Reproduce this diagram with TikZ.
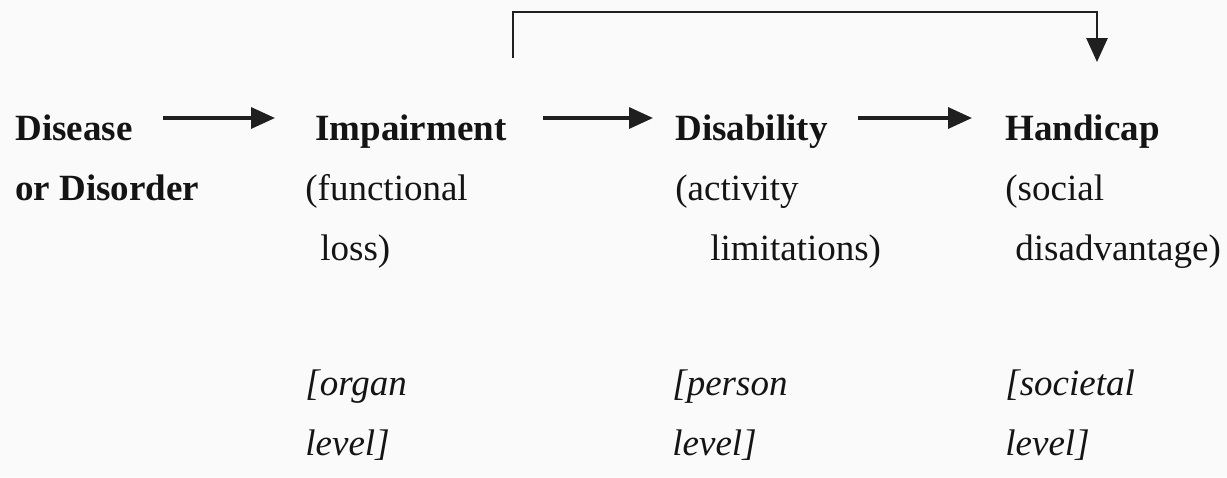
\documentclass[tikz,border=0pt]{standalone}
\usepackage{fontspec}
\setmainfont{Liberation Serif}
\usetikzlibrary{arrows.meta,calc}
\begin{document}
\begin{tikzpicture}[x=0.5pt,y=-0.5pt,
  lbl/.style={inner sep=0pt, anchor=base west, text=black!92, font=\fontsize{18.5}{22}\selectfont},
  hd/.style={lbl, font=\fontsize{18.5}{22}\selectfont\bfseries},
  itl/.style={lbl, font=\fontsize{18.5}{22}\selectfont\itshape},
  arr/.style={line width=1.7pt, draw=black!88, -{Triangle[length=12pt,width=10.5pt]}},
  toparr/.style={arr, line width=1.4pt}]
\fill[black!2] (0,0) rectangle (1227,477);
\useasboundingbox (0,0) rectangle (1227,477);
% column 1
\node[hd] (dis) at (15,140) {Disease};
\node[hd] (dis2) at (15,200) {or Disorder};
% column 2
\node[hd] (imp) at (315,140) {Impairment};
\node[lbl] (imp2) at (305,200) {(functional};
\node[lbl] (imp3) at (320,260) {loss)};
\node[itl] (imp4) at (305,395) {[organ};
\node[itl] (imp5) at (305,455) {level]};
% column 3
\node[hd] (dsb) at (675,140) {Disability};
\node[lbl] (dsb2) at (675,200) {(activity};
\node[lbl] (dsb3) at (710,260) {limitations)};
\node[itl] (dsb4) at (672,395) {[person};
\node[itl] (dsb5) at (672,455) {level]};
% column 4
\node[hd] (hcp) at (1005,140) {Handicap};
\node[lbl] (hcp2) at (1005,200) {(social};
\node[lbl] (hcp3) at (1015,260) {disadvantage)};
\node[itl] (hcp4) at (1005,395) {[societal};
\node[itl] (hcp5) at (1005,455) {level]};
% connectors
\draw[arr] ($(dis.base west)+(148,-22)$) -- ($(imp.base west)+(-40,-22)$);
\draw[arr] ($(imp.base west)+(228,-22)$) -- ($(dsb.base west)+(-22,-22)$);
\draw[arr] ($(dsb.base west)+(183,-22)$) -- ($(hcp.base west)+(-33,-22)$);
\draw[toparr] ($(imp.base west)+(198,-82)$) -- ++(0,-46) -| ($(hcp.base west)+(92,-78)$);
\end{tikzpicture}
\end{document}
